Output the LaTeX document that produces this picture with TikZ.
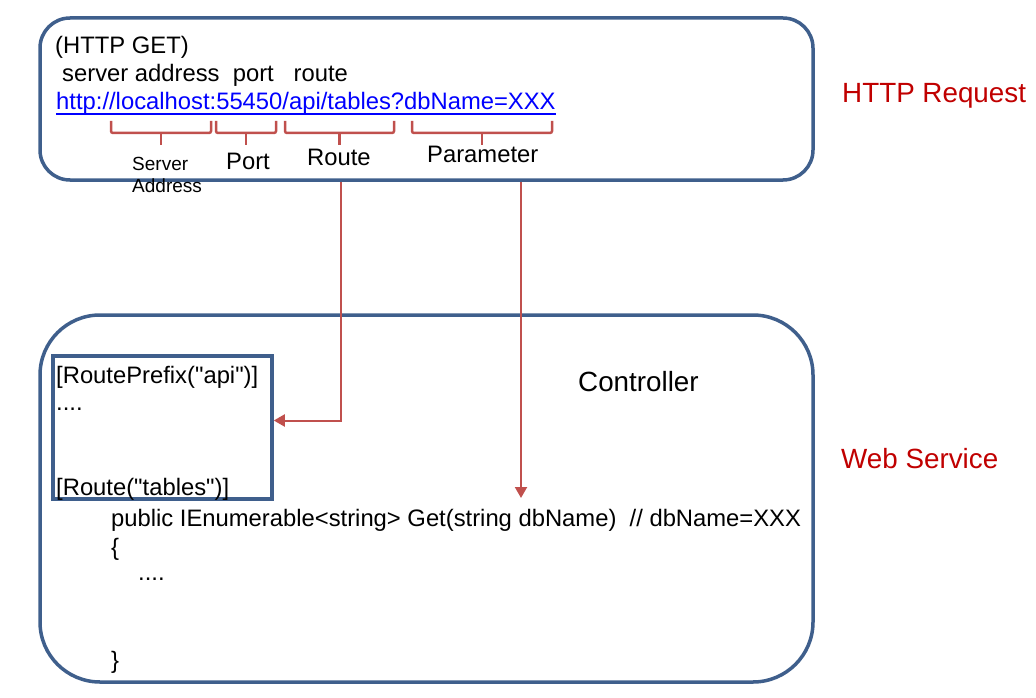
\documentclass[tikz,border=0pt]{standalone}
\usepackage{fontspec}
\setmainfont{Liberation Sans}
\usetikzlibrary{arrows.meta}
\usetikzlibrary{calc,positioning}

\definecolor{boxblue}{HTML}{3F5F8C}
\definecolor{arrowred}{HTML}{C0504D}
\definecolor{labelred}{HTML}{C00000}
\definecolor{urlblue}{HTML}{0000FF}

\tikzset{
    txt/.style={anchor=base west, inner sep=0pt, font=\fontsize{23.8}{28}\selectfont},
    small/.style={txt, font=\fontsize{19}{23}\selectfont},
    big/.style={txt, font=\fontsize{27.8}{32}\selectfont},
    side/.style={big, text=labelred},
    outerbox/.style={draw=boxblue, line width=3.5pt, inner sep=0pt},
    bracket/.style={draw=arrowred, line width=2.5pt, rounded corners=2pt},
    flow/.style={draw=arrowred, line width=2pt, -{Triangle[width=12pt,length=11pt]}}
}

\begin{document}
\begin{tikzpicture}[x=1pt, y=-1pt]

    \useasboundingbox (0,0) rectangle (1036,698);

    % the two frames
    \node[outerbox, rounded corners=30pt, minimum width=773pt, minimum height=162pt] (req) at (426.5,99) {};
    \node[outerbox, rounded corners=60pt, minimum width=773pt, minimum height=367pt] (svc) at (426.5,498.5) {};
    \node[outerbox, minimum width=219pt, minimum height=143pt] (attr) at (162.5,427.5) {};

    % request text
    \node[txt] (get) at (55,54) {(HTTP GET)};
    \node[txt] (parts) at (62,82) {server address\ \ port\ \ \ route};
    \node[txt, text=urlblue] (url) at (56,110) {http://localhost:55450/api/tables?dbName=XXX};
    \draw[urlblue, line width=1.6pt] ([yshift=-4pt]url.base west) -- ([yshift=-4pt]url.base east);

    % brackets under the url
    \foreach \xa/\xb in {111/211, 216/276, 285/394, 412/552}{
        \draw[bracket] (\xa,121) -- (\xa,133) -- (\xb,133) -- (\xb,121);
        \draw[bracket] ({(\xa+\xb)/2},133) -- ({(\xa+\xb)/2},145);
    }

    \node[small] (srv) at (132,170) {Server};
    \node[small] (addr) at (132,193) {Address};
    \node[txt] (port) at (226,169) {Port};
    \node[txt] (route) at (307,165) {Route};
    \node[txt] (param) at (427,163) {Parameter};

    % side labels
    \node[side] (httpreq) at (842,103) {HTTP Request};
    \node[side] (websvc) at (841,468) {Web Service};

    % controller text
    \node[big] (ctrl) at (578,391) {Controller};
    \node[txt] (prefix) at (56,383) {[RoutePrefix(\textquotedbl api\textquotedbl)]};
    \node[txt] (dots1) at (56,410) {....};
    \node[txt] (rt) at (56,495) {[Route(\textquotedbl tables\textquotedbl)]};
    \node[txt] (sig) at (111,526) {public IEnumerable<string> Get(string dbName)\ \ // dbName=XXX};
    \node[txt] (open) at (111,555) {\{};
    \node[txt] (dots2) at (138,580) {....};
    \node[txt] (close) at (111,668) {\}};

    % connectors
    \coordinate (rtx) at (341,0);
    \coordinate (pmx) at (521,498);
    \draw[flow] (rtx |- req.south) |- ([yshift=7pt]attr.east);
    \draw[flow] (pmx |- req.south) -- (pmx);

\end{tikzpicture}
\end{document}
